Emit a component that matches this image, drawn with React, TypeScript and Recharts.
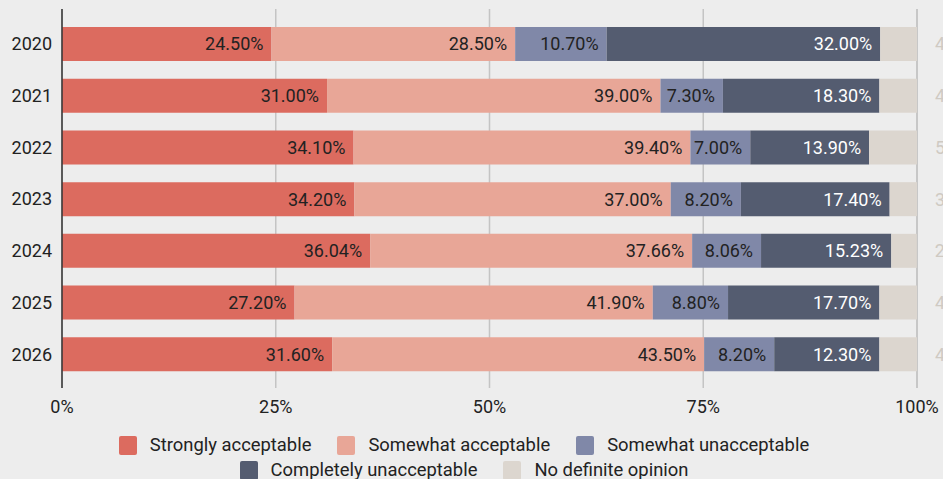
import React from 'react';
import { BarChart, Bar, XAxis, YAxis, CartesianGrid, LabelList } from 'recharts';

const years = ['2020', '2021', '2022', '2023', '2024', '2025', '2026'];
const stronglyAcceptable = [24.5, 31.0, 34.1, 34.2, 36.04, 27.2, 31.6];
const somewhatAcceptable = [28.5, 39.0, 39.4, 37.0, 37.66, 41.9, 43.5];
const somewhatUnacceptable = [10.7, 7.3, 7.0, 8.2, 8.06, 8.8, 8.2];
const completelyUnacceptable = [32.0, 18.3, 13.9, 17.4, 15.23, 17.7, 12.3];
const noDefiniteOpinion = [4.3, 4.4, 5.6, 3.2, 2.99, 4.4, 4.4];
const xTicks = [0, 25, 50, 75, 100];

const seriesNames = [
  'Strongly acceptable',
  'Somewhat acceptable',
  'Somewhat unacceptable',
  'Completely unacceptable',
  'No definite opinion',
];
const seriesKeys = ['sa', 'swa', 'swu', 'cu', 'nd'];
const seriesColors = ['#dc6b5f', '#e8a697', '#8088a8', '#545c70', '#dcd6cf'];
const labelColors = ['#222222', '#222222', '#222222', '#ffffff', '#cfcac3'];

const data = years.map((y, i) => ({
  year: y,
  sa: stronglyAcceptable[i],
  swa: somewhatAcceptable[i],
  swu: somewhatUnacceptable[i],
  cu: completelyUnacceptable[i],
  nd: noDefiniteOpinion[i],
}));

const fmt = (v: any) => `${Number(v).toFixed(2)}%`;

export default function App() {
  return (
    <div
      style={{
        position: 'absolute',
        left: 0,
        top: 0,
        width: 943,
        height: 479,
        background: '#ededed',
        fontFamily: 'Roboto, sans-serif',
        overflow: 'hidden',
      }}
    >
      <BarChart
        width={943}
        height={430}
        data={data}
        layout="vertical"
        margin={{ top: 9, right: 26, bottom: 0, left: 0 }}
        barSize={34}
      >
        <CartesianGrid horizontal={false} vertical={true} stroke="#c4c4c4" strokeWidth={1.5} />
        <XAxis
          type="number"
          domain={[0, 100]}
          ticks={xTicks}
          tickFormatter={(v) => `${v}%`}
          axisLine={false}
          tickLine={false}
          tickSize={0}
          tickMargin={12}
          height={42}
          tick={{ fontSize: 18, fill: '#222' }}
        />
        <YAxis
          type="category"
          dataKey="year"
          width={62}
          axisLine={{ stroke: '#333', strokeWidth: 1.5 }}
          tickLine={false}
          tickSize={0}
          tickMargin={10}
          padding={{ top: 9, bottom: 8 }}
          tick={{ fontSize: 18, fill: '#222' }}
        />
        {seriesKeys.map((k, i) => (
          <Bar
            key={k}
            dataKey={k}
            stackId="a"
            fill={seriesColors[i]}
            name={seriesNames[i]}
            isAnimationActive={false}
          >
            <LabelList
              dataKey={k}
              position={i === 4 ? 'right' : 'insideRight'}
              offset={i === 4 ? 18 : 8}
              formatter={fmt}
              style={{ fontSize: 18, fill: labelColors[i] }}
            />
          </Bar>
        ))}
      </BarChart>
      <div
        style={{
          position: 'absolute',
          left: 90,
          top: 435,
          width: 748,
          display: 'flex',
          flexWrap: 'wrap',
          justifyContent: 'center',
          rowGap: 5,
        }}
      >
        {seriesNames.map((n, i) => (
          <div
            key={n}
            style={{
              display: 'flex',
              alignItems: 'center',
              margin: '0 13px',
              height: 20,
            }}
          >
            <div
              style={{
                width: 18,
                height: 19,
                borderRadius: 2,
                background: seriesColors[i],
                marginRight: 13,
              }}
            />
            <span style={{ fontSize: 18.4, color: '#222', lineHeight: '20px', whiteSpace: 'nowrap' }}>{n}</span>
          </div>
        ))}
      </div>
    </div>
  );
}
